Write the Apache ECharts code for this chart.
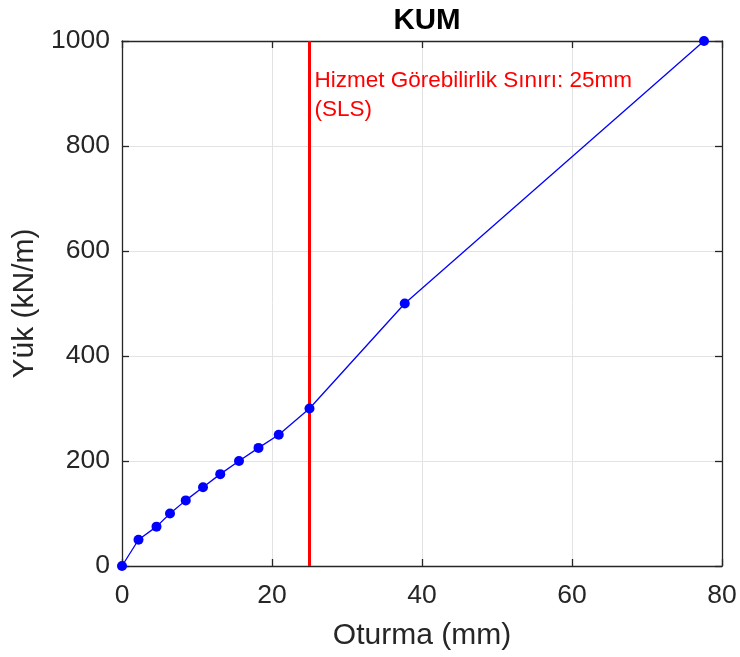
<!DOCTYPE html>
<html>
<head>
<meta charset="utf-8">
<script src="https://cdn.jsdelivr.net/npm/echarts@6/dist/echarts.min.js"></script>
<style>
  html, body { margin: 0; padding: 0; background: #ffffff; }
  #chart { width: 740px; height: 657px; }
</style>
</head>
<body>
<div id="chart"></div>
<script>
// Settlement (mm) vs. load (kN/m) for sand
const settlement = [0, 2.2, 4.6, 6.4, 8.5, 10.8, 13.1, 15.6, 18.2, 20.9, 25.0, 37.7, 77.6];
const load = [0, 50, 75, 100, 125, 150, 175, 200, 225, 250, 300, 500, 1000];

const xTicks = [0, 20, 40, 60, 80];
const yTicks = [0, 200, 400, 600, 800, 1000];

const slsLimit = 25; // serviceability limit, mm
const slsLabel = 'Hizmet Görebilirlik Sınırı: 25mm\n(SLS)';

const titleText = 'KUM';
const xName = 'Oturma (mm)';
const yName = 'Yük (kN/m)';

const FONT = '"Liberation Sans", Arial, sans-serif';
const AXIS_COLOR = '#262626';

const points = settlement.map((x, i) => [x, load[i]]);

const chart = echarts.init(document.getElementById('chart'), null, { renderer: 'canvas' });

function baseAxis(extra) {
  return Object.assign({
    type: 'value',
    axisLine: { show: true, onZero: false, lineStyle: { color: AXIS_COLOR, width: 1.3 } },
    axisTick: { show: true, inside: true, length: 7, lineStyle: { color: AXIS_COLOR, width: 1.3 } },
    splitLine: { show: false },
    axisLabel: { show: false }
  }, extra);
}

const plainNumber = v => String(v);

chart.setOption({
  animation: false,
  backgroundColor: '#ffffff',
  title: {
    text: titleText,
    left: 422,
    textAlign: 'center',
    top: 1,
    textStyle: { fontFamily: FONT, fontSize: 29.5, fontWeight: 'bold', color: '#000000' }
  },
  grid: { left: 122, right: 18, top: 41, bottom: 91, containLabel: false, outerBoundsMode: 'none' },
  xAxis: [
    baseAxis({
      min: xTicks[0], max: xTicks[xTicks.length - 1], interval: 20,
      position: 'bottom',
      splitLine: { show: true, lineStyle: { color: '#e3e3e3', width: 1 } },
      axisLabel: { show: true, fontFamily: FONT, fontSize: 26.5, color: AXIS_COLOR, margin: 16, formatter: plainNumber },
      name: xName, nameLocation: 'middle', nameGap: 55,
      nameTextStyle: { fontFamily: FONT, fontSize: 30, color: AXIS_COLOR }
    }),
    baseAxis({ min: xTicks[0], max: xTicks[xTicks.length - 1], interval: 20, position: 'top' })
  ],
  yAxis: [
    baseAxis({
      min: yTicks[0], max: yTicks[yTicks.length - 1], interval: 200,
      position: 'left',
      splitLine: { show: true, lineStyle: { color: '#e3e3e3', width: 1 } },
      axisLabel: { show: true, fontFamily: FONT, fontSize: 26.5, color: AXIS_COLOR, margin: 12, formatter: plainNumber },
      name: yName, nameLocation: 'middle', nameGap: 68,
      nameTextStyle: { fontFamily: FONT, fontSize: 30, color: AXIS_COLOR }
    }),
    baseAxis({ min: yTicks[0], max: yTicks[yTicks.length - 1], interval: 200, position: 'right' })
  ],
  series: [
    {
      name: 'SLS',
      type: 'line',
      data: [[slsLimit, yTicks[0]], [slsLimit, yTicks[yTicks.length - 1]]],
      showSymbol: false,
      symbol: 'none',
      lineStyle: { color: '#ff0000', width: 3 },
      z: 3,
      silent: true
    },
    {
      name: 'KUM',
      type: 'line',
      data: points,
      symbol: 'circle',
      symbolSize: 10,
      itemStyle: { color: '#0000ff' },
      lineStyle: { color: '#0000ff', width: 1.3 },
      z: 4,
      clip: false
    }
  ]
});

// SLS annotation text placed just right of the limit line
const anchor = chart.convertToPixel({ xAxisIndex: 0, yAxisIndex: 0 }, [slsLimit, yTicks[yTicks.length - 1]]);
chart.setOption({
  graphic: [{
    type: 'text',
    left: anchor[0] + 5,
    top: anchor[1] + 25,
    style: {
      text: slsLabel,
      fontFamily: FONT,
      fontSize: 22.5,
      lineHeight: 29,
      fill: '#ff0000'
    },
    z: 10
  }]
});
</script>
</body>
</html>
